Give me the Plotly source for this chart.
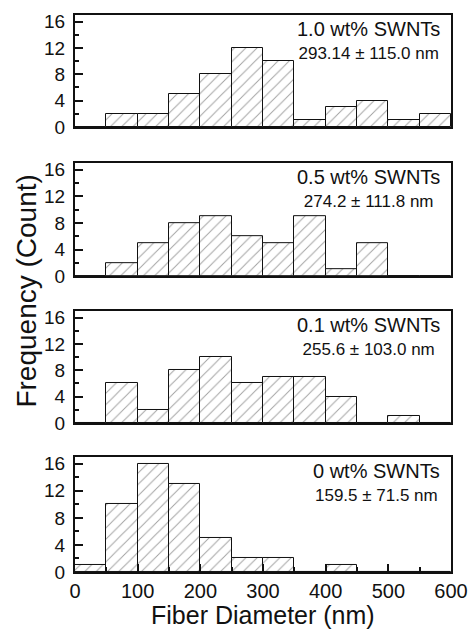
import plotly.graph_objects as go

bin_centers = [25, 75, 125, 175, 225, 275, 325, 375, 425, 475, 525, 575]
counts_10 = [0, 2, 2, 5, 8, 12, 10, 1, 3, 4, 1, 2]
counts_05 = [0, 2, 5, 8, 9, 6, 5, 9, 1, 5, 0, 0]
counts_01 = [0, 6, 2, 8, 10, 6, 7, 7, 4, 0, 1, 0]
counts_00 = [1, 10, 16, 13, 5, 2, 2, 0, 1, 0, 0, 0]
labels = ["1.0 wt% SWNTs", "0.5 wt% SWNTs", "0.1 wt% SWNTs", "0 wt% SWNTs"]
stats = ["293.14 ± 115.0 nm", "274.2 ± 111.8 nm", "255.6 ± 103.0 nm", "159.5 ± 71.5 nm"]
series = [counts_10, counts_05, counts_01, counts_00]
y_ticks = [0, 4, 8, 12, 16]
x_ticks = [0, 100, 200, 300, 400, 500, 600]

domains = [[0.799, 1.0], [0.531, 0.734], [0.2675, 0.4686], [0.0, 0.2065]]
FONT = "Liberation Sans, Arial, sans-serif"

fig = go.Figure()
layout = dict(
    width=470, height=629,
    margin=dict(l=75, r=19, t=15, b=57, autoexpand=False),
    paper_bgcolor="white", plot_bgcolor="white",
    showlegend=False,
    font=dict(family=FONT, color="#111", size=19),
    bargap=0,
)
annotations = []
for i, (vals, lab, st, dom) in enumerate(zip(series, labels, stats, domains)):
    n = i + 1
    xa = "x" if n == 1 else f"x{n}"
    ya = "y" if n == 1 else f"y{n}"
    fig.add_trace(go.Bar(
        x=bin_centers, y=vals, width=50,
        xaxis=xa, yaxis=ya,
        marker=dict(
            color="white",
            line=dict(color="#111", width=1),
            pattern=dict(shape="/", fgcolor="#444", bgcolor="white", size=8, solidity=0.12),
        ),
    ))
    bottom = (n == 4)
    xkey = "xaxis" if n == 1 else f"xaxis{n}"
    ykey = "yaxis" if n == 1 else f"yaxis{n}"
    layout[xkey] = dict(
        domain=[0, 1], anchor=ya, range=[0, 600], automargin=False,
        showline=True, mirror=True, linewidth=2, linecolor="#111",
        showgrid=False, zeroline=False,
        ticks="inside" if bottom else "", ticklen=8, tickwidth=2, tickcolor="#111",
        tickvals=x_ticks if bottom else [], showticklabels=bottom,
        tickfont=dict(size=20),
        minor=dict(ticks="inside", tickvals=[50, 150, 250, 350, 450, 550], ticklen=5,
                   tickwidth=2, tickcolor="#111") if bottom else None,
    )
    layout[ykey] = dict(
        domain=dom, anchor=xa, range=[0, 17], automargin=False,
        showline=True, mirror=True, linewidth=2, linecolor="#111",
        showgrid=False, zeroline=False,
        ticks="inside", ticklen=8, tickwidth=2, tickcolor="#111",
        tickvals=y_ticks, tickfont=dict(size=19), ticklabelstandoff=4,
        minor=dict(ticks="inside", tickvals=[2, 6, 10, 14], ticklen=4, tickwidth=2, tickcolor="#111"),
    )
    annotations.append(dict(
        xref=f"{xa} domain", yref=f"{ya} domain", x=0.976, y=1, yshift=-1,
        xanchor="right", yanchor="top", align="center", showarrow=False,
        text=f"<span style='font-size:20px'>{lab}</span><br><span style='font-size:17px'>{st}</span>",
        font=dict(size=18, family=FONT, color="#111"),
    ))

annotations.append(dict(
    xref="paper", yref="paper", x=-0.128, y=0.505, xanchor="center", yanchor="middle",
    textangle=-90, showarrow=False, text="Frequency (Count)",
    font=dict(size=28, family=FONT, color="#111"),
))
annotations.append(dict(
    xref="paper", yref="paper", x=0.5, y=-57 / 557, xanchor="center", yanchor="bottom",
    yshift=-2, showarrow=False, text="Fiber Diameter (nm)",
    font=dict(size=25, family=FONT, color="#111"),
))
layout["annotations"] = annotations
fig.update_layout(**layout)
fig.write_html("out.html")
